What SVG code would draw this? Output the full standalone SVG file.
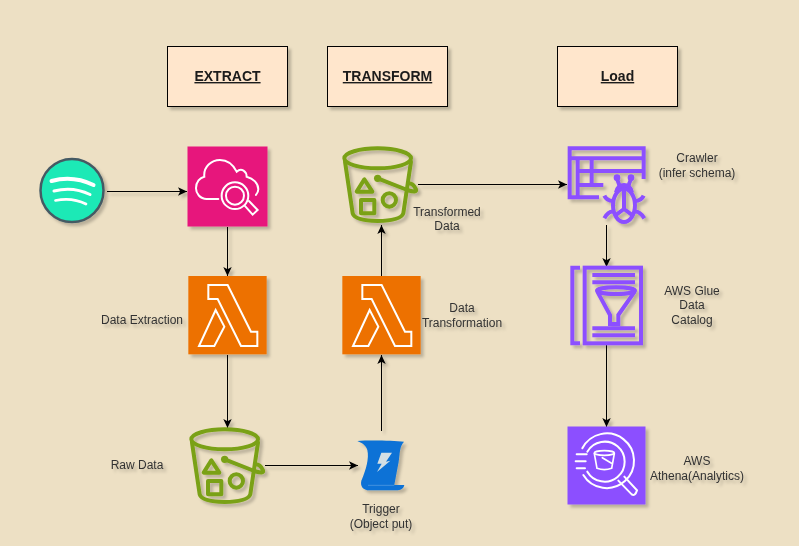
<svg xmlns="http://www.w3.org/2000/svg" xmlns:xlink="http://www.w3.org/1999/xlink" width="799" height="546" viewBox="0 0 799 546">
<style>
text{font-family:"Liberation Sans",Arial,sans-serif;font-size:12px;fill:#333;text-anchor:middle}
.h{font-size:14px;font-weight:bold;fill:#1a1a1a;text-decoration:underline}
.box{fill:#ffe6cc;stroke:#000;stroke-width:1}
.c{fill:none;stroke:#000;stroke-width:1;marker-end:url(#a)}
.w{fill:none;stroke:#fff;stroke-linejoin:miter}
.g{fill:none;stroke:#7aa116;stroke-width:12;stroke-linejoin:round;stroke-linecap:round}
.p{fill:none;stroke:#8c4fff;stroke-width:12;stroke-linecap:butt;stroke-linejoin:miter}
</style>
<defs>
<filter id="s" x="-20%" y="-20%" width="150%" height="150%"><feDropShadow dx="3" dy="3" stdDeviation="1.5" flood-color="#000" flood-opacity="0.22"/></filter>
<marker id="a" markerUnits="userSpaceOnUse" markerWidth="11" markerHeight="10" refX="9" refY="4.500" orient="auto"><path d="M0 0.300L9 4.500L0 8.700L2.200 4.500Z" fill="#000"/></marker>
<g id="bucket">
<ellipse class="g" cx="143" cy="85" rx="100" ry="30"/>
<path class="g" d="M45 95L68 250Q75 272 143 273Q212 272 220 250L243 95"/>
<path class="g" d="M103 148L80 185H127Z"/>
<rect class="g" x="93" y="210" width="40" height="40"/>
<circle class="g" cx="178" cy="210" r="20"/>
<circle cx="143" cy="145" r="11" fill="#7aa116"/>
<path class="g" d="M143 145L232 180Q262 190 258 178Q250 160 236 160"/>
</g>
<g id="lambda">
<rect x="25" y="18" width="235" height="235" fill="#ed7100"/>
<path class="w" stroke-width="6" d="M85 45H143L213 185H232V228H183L113 87H85Z"/>
<path class="w" stroke-width="6" d="M107 120L57 228H103L133 170Z"/>
</g>
</defs>
<rect width="799" height="546" fill="#ede0c4"/>
<g id="connectors" filter="url(#s)">
<path class="c" d="M107 191.500H187"/>
<path class="c" d="M227.500 227V276"/>
<path class="c" d="M227.500 355V428"/>
<path class="c" d="M265 465.500H358"/>
<path class="c" d="M381.500 431V355"/>
<path class="c" d="M381.500 276V225"/>
<path class="c" d="M418 184.500H567"/>
<path class="c" d="M606.500 225V267"/>
<path class="c" d="M606.500 345V427"/>
</g>
<g id="extract" filter="url(#s)"><rect class="box" x="167.500" y="46.500" width="120" height="60"/><text class="h" x="227.500" y="81">EXTRACT</text></g>
<g id="transform" filter="url(#s)"><rect class="box" x="327.500" y="46.500" width="120" height="60"/><text class="h" x="387.500" y="81">TRANSFORM</text></g>
<g id="load" filter="url(#s)"><rect class="box" x="557.500" y="46.500" width="120" height="60"/><text class="h" x="617.500" y="81">Load</text></g>
<g id="spotify" filter="url(#s)">
<circle cx="72" cy="190.500" r="31.500" fill="#1de9b6" stroke="#455a64" stroke-width="2.500"/>
<path d="M51.500 181Q73 175 93.500 185" fill="none" stroke="#fff" stroke-width="4" stroke-linecap="round"/>
<path d="M54 191Q73 186 90 194.500" fill="none" stroke="#fff" stroke-width="3" stroke-linecap="round"/>
<path d="M55.500 200.500Q72 197 86 204" fill="none" stroke="#fff" stroke-width="2.700" stroke-linecap="round"/>
</g>
<g id="api" filter="url(#s)">
<rect x="187.500" y="146.500" width="80" height="80" fill="#e7157b"/>
<g transform="translate(20 130) scale(.3333)">
<path class="w" stroke-width="6" stroke-linecap="round" d="M595 207H560C540 207 528 190 528 175C528 155 540 143 553 140C550 110 575 90 600 90C625 90 640 105 650 125C665 112 680 125 680 140C700 145 715 160 715 178C715 185 712 190 708 195"/>
<circle class="w" stroke-width="6" cx="645" cy="197" r="40"/>
<circle class="w" stroke-width="6" cx="645" cy="197" r="27"/>
<path class="w" stroke-width="6" stroke-linecap="round" d="M674 227L698 254L713 240L687 213"/>
</g>
</g>
<g id="lambda-extract" filter="url(#s)"><use xlink:href="#lambda" href="#lambda" transform="translate(180 270) scale(.3333)"/><text x="142" y="324">Data Extraction</text></g>
<g id="bucket-raw" filter="url(#s)"><use xlink:href="#bucket" href="#bucket" transform="translate(177 411) scale(.3333)"/><text x="137" y="469">Raw Data</text></g>
<g id="trigger" filter="url(#s)">
<g transform="translate(340 430) scale(.3333)">
<path d="M52 33C90 30 160 32 192 35C178 50 180 70 176 95L163 165H193C190 178 180 181 170 181H88C70 180 60 170 64 152C78 120 88 85 82 60C78 45 65 38 52 33Z" fill="#0c72d6"/>
<path d="M84 166H163" fill="none" stroke="#7db3e6" stroke-width="1.500"/>
<path d="M124 68H156L138 95L151 92L111 126L125 101H112Z" fill="#d4dfe4"/>
</g>
<text x="381" y="513">Trigger</text><text x="381" y="528">(Object put)</text>
</g>
<g id="lambda-transform" filter="url(#s)"><use xlink:href="#lambda" href="#lambda" transform="translate(334 270) scale(.3333)"/><text x="462" y="312">Data</text><text x="462" y="327">Transformation</text></g>
<g id="bucket-transformed" filter="url(#s)"><use xlink:href="#bucket" href="#bucket" transform="translate(330 130) scale(.3333)"/><text x="447" y="216">Transformed</text><text x="447" y="230">Data</text></g>
<g id="crawler" filter="url(#s)">
<g transform="translate(555 135) scale(.3333)">
<path class="p" d="M266 132V40H44V187H132M44 70H266M68 70V187M110 70V150M68 108H266M68 150H145"/>
<ellipse class="p" cx="207" cy="211" rx="33" ry="50"/>
<path class="p" d="M207 165V222M207 222L180 242M207 222L234 242M183 172Q188 150 207 150Q226 150 231 172M195 160Q192 145 186 132M219 160Q222 145 228 132M174 198Q155 198 148 182M240 198Q259 198 266 182M176 230Q160 228 148 250M238 230Q254 228 268 250"/>
<circle cx="186" cy="128" r="10" fill="#8c4fff"/><circle cx="228" cy="128" r="10" fill="#8c4fff"/>
</g>
<text x="697" y="162">Crawler</text><text x="697" y="177">(infer schema)</text>
</g>
<g id="glue" filter="url(#s)">
<g transform="translate(555 255) scale(.3333)">
<path class="p" d="M75 38H52V265H75"/>
<rect class="p" x="89" y="38" width="169" height="227"/>
<path class="p" d="M112 60H240M112 82H240M112 220H240M112 241H240"/>
<ellipse class="p" cx="183" cy="107" rx="57" ry="10"/>
<path class="p" d="M127 110L165 180V207H190V180L239 110"/>
</g>
<text x="692" y="295">AWS Glue</text><text x="692" y="309">Data</text><text x="692" y="324">Catalog</text>
</g>
<g id="athena" filter="url(#s)">
<rect x="567.500" y="426.500" width="78" height="78" fill="#8c4fff"/>
<g transform="translate(555 415) scale(.3333)">
<path class="w" stroke-width="6" stroke-linecap="round" d="M82 100A82 82 0 1 1 85 180"/>
<path class="w" stroke-width="6" stroke-linecap="round" d="M97 110A60 60 0 1 1 97 170"/>
<path class="w" stroke-width="6" stroke-linecap="round" d="M65 118H95M62 139H92M65 160H90"/>
<path class="w" stroke-width="6" stroke-linecap="round" stroke-linejoin="round" d="M190 197L230 238Q240 245 246 226L208 185"/>
<ellipse class="w" stroke-width="5" cx="148" cy="114" rx="30" ry="7"/>
<path class="w" stroke-width="5" stroke-linecap="round" d="M118 116L126 160Q148 168 170 160L178 116M142 128L172 146"/>
</g>
<text x="697" y="465">AWS</text><text x="697" y="480">Athena(Analytics)</text>
</g>
</svg>
